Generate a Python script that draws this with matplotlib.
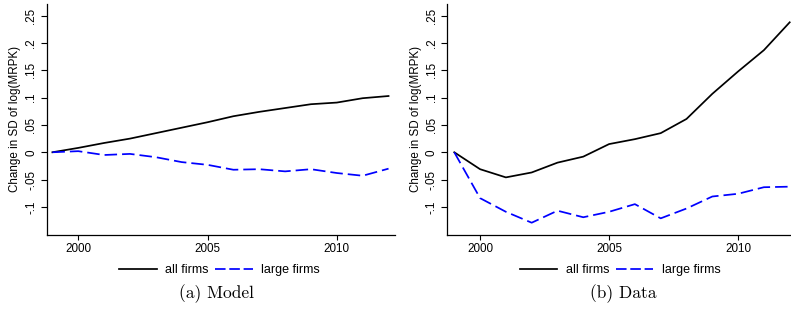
#!/usr/bin/env python3
"""Change in SD of log(MRPK): model vs data, all firms vs large firms."""

import matplotlib
matplotlib.use("Agg")
import matplotlib.pyplot as plt
from matplotlib.lines import Line2D

YEARS = list(range(1999, 2013))

MODEL_ALL = [0.0, 0.008, 0.017, 0.025, 0.035, 0.045, 0.055, 0.066, 0.074,
             0.081, 0.088, 0.091, 0.099, 0.103]
MODEL_LARGE = [0.0, 0.002, -0.005, -0.003, -0.009, -0.018, -0.023, -0.032,
               -0.031, -0.035, -0.031, -0.038, -0.043, -0.030]

DATA_ALL = [0.0, -0.031, -0.046, -0.037, -0.019, -0.008, 0.015, 0.024,
            0.035, 0.061, 0.107, 0.148, 0.187, 0.238]
DATA_LARGE = [0.0, -0.084, -0.109, -0.129, -0.107, -0.119, -0.109, -0.095,
              -0.121, -0.103, -0.081, -0.076, -0.064, -0.063]

Y_TICKS = [-0.1, -0.05, 0.0, 0.05, 0.1, 0.15, 0.2, 0.25]
Y_TICK_LABELS = ["-.1", "-.05", "0", ".05", ".1", ".15", ".2", ".25"]
X_TICKS = [2000, 2005, 2010]

SERIES_LABELS = ["all firms", "large firms"]
CAPTIONS = ["(a) Model", "(b) Data"]
YLABEL = "Change in SD of log(MRPK)"

plt.rcParams["font.family"] = ["Liberation Sans", "DejaVu Sans"]
plt.rcParams["lines.scale_dashes"] = False

W, H = 791, 309
fig = plt.figure(figsize=(W / 100, H / 100), dpi=100)


def px_axes(x0, y0, x1, y1):
    return fig.add_axes([x0 / W, 1 - y1 / H, (x1 - x0) / W, (y1 - y0) / H])


panels = [
    (px_axes(46.7, 4, 395, 235), MODEL_ALL, MODEL_LARGE, (1998.78, 2012.25),
     219.5, 216.5, CAPTIONS[0]),
    (px_axes(447.3, 4, 791, 235), DATA_ALL, DATA_LARGE, (1998.73, 2012.05),
     620.3, 622.8, CAPTIONS[1]),
]

for ax, all_vals, large_vals, xlim, leg_x, cap_x, caption in panels:
    ax.plot(YEARS, all_vals, color="black", linewidth=1.25,
            solid_joinstyle="round")
    ax.plot(YEARS, large_vals, color="#0000ff", linewidth=1.25,
            dashes=(9.0, 3.6))

    ax.set_xlim(*xlim)
    ax.set_ylim(-0.1515, 0.2715)

    ax.set_yticks(Y_TICKS)
    ax.set_yticklabels(Y_TICK_LABELS, rotation=90, va="center")
    ax.set_xticks(X_TICKS)
    ax.set_xticklabels([str(t) for t in X_TICKS])

    ax.tick_params(axis="y", length=4.3, width=0.8, pad=2.5, labelsize=8.4)
    ax.tick_params(axis="x", length=3.5, width=0.8, pad=2.5, labelsize=8.4)

    for side in ("top", "right"):
        ax.spines[side].set_visible(False)
    for side in ("left", "bottom"):
        ax.spines[side].set_linewidth(0.9)

    ax.set_ylabel(YLABEL, fontsize=8.4, labelpad=3)

    # legend handles: three short dashes like the original
    h1 = Line2D([], [], color="black", linewidth=1.25)
    h2 = Line2D([], [], color="#0000ff", linewidth=1.25, dashes=(7.6, 2.7))
    fig.legend(
        [h1, h2],
        SERIES_LABELS,
        loc="center",
        bbox_to_anchor=(leg_x / W, 1 - 270 / H),
        ncol=2,
        frameon=False,
        fontsize=9,
        handlelength=3.0,
        handletextpad=0.7,
        columnspacing=0.5,
    )

    fig.text(cap_x / W, 1 - 293.5 / H, caption, ha="center", va="center",
             fontsize=12.5, family="cmr10")

fig.savefig("out.png", dpi=100, facecolor="white")
